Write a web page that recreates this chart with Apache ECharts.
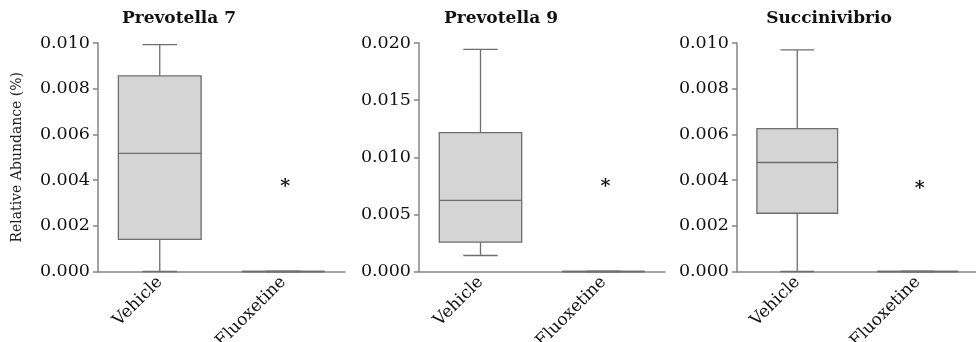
<!DOCTYPE html>
<html><head><meta charset="utf-8">
<script src="https://cdn.jsdelivr.net/npm/echarts@6/dist/echarts.min.js"></script>
<style>html,body{margin:0;padding:0;background:#fff}#c{width:976px;height:342px}</style>
</head><body><div id="c"></div>
<script>
const categories = ['Vehicle', 'Fluoxetine'];
const titles = ['Prevotella 7', 'Prevotella 9', 'Succinivibrio'];
// [min, Q1, median, Q3, max]
const prev7Vehicle = [0, 0.00141, 0.00517, 0.00856, 0.00993];
const prev7Fluoxetine = [0, 0, 0, 0, 0];
const prev9Vehicle = [0.0014, 0.00257, 0.00623, 0.01216, 0.01945];
const prev9Fluoxetine = [0, 0, 0, 0, 0];
const succVehicle = [0, 0.00255, 0.00477, 0.00625, 0.00970];
const succFluoxetine = [0, 0, 0, 0, 0];
const starValues = [0.00386, 0.00772, 0.00377];
const yMax = [0.010, 0.020, 0.010];
const yStep = [0.002, 0.005, 0.002];

const panels = [
  [prev7Vehicle, prev7Fluoxetine],
  [prev9Vehicle, prev9Fluoxetine],
  [succVehicle, succFluoxetine]
];
const gridLefts = [98, 419, 737];
const gridWidths = [247, 246, 241];
const titleCenters = [174, 496, 824];
const FONT = 'DejaVu Serif';
const axisColor = '#858585';

const chart = echarts.init(document.getElementById('c'), null, {renderer: 'canvas'});
const grids = [], xAxes = [], yAxes = [], series = [], titleOpts = [];
panels.forEach((p, i) => {
  grids.push({left: gridLefts[i], width: gridWidths[i], top: 43, bottom: 70.5,
    containLabel: false, outerBoundsMode: 'none'});
  titleOpts.push({text: titles[i], left: titleCenters[i], top: 5, textAlign: 'center',
    textStyle: {fontFamily: FONT, fontWeight: 'bold', fontSize: 17, color: '#111'}});
  xAxes.push({type: 'category', gridIndex: i, data: categories,
    axisLine: {lineStyle: {color: axisColor, width: 1.5}}, axisTick: {show: false},
    axisLabel: {rotate: 45, fontFamily: FONT, fontSize: 17, color: '#111', margin: 8, interval: 0}});
  yAxes.push({type: 'value', gridIndex: i, min: 0, max: yMax[i], interval: yStep[i],
    name: i === 0 ? 'Relative Abundance (%)' : '', nameLocation: 'middle', nameGap: 74,
    nameTextStyle: {fontFamily: FONT, fontSize: 14, color: '#222'},
    splitLine: {show: false},
    axisLine: {show: true, lineStyle: {color: axisColor, width: 1.5}},
    axisTick: {show: true, length: 5, lineStyle: {color: axisColor, width: 1.5}},
    axisLabel: {fontFamily: FONT, fontSize: 17.5, color: '#111', margin: 8,
      formatter: v => v.toFixed(3)}});
  series.push({
    type: 'custom', xAxisIndex: i, yAxisIndex: i,
    data: p.map((d, k) => [k].concat(d)),
    encode: {x: 0, y: [1, 2, 3, 4, 5]},
    renderItem: function (params, api) {
      const x = api.value(0);
      const band = api.size([1, 0])[0];
      const bw = band * 0.67, cw = band * 0.28;
      const pmin = api.coord([x, api.value(1)]);
      const pq1 = api.coord([x, api.value(2)]);
      const pmed = api.coord([x, api.value(3)]);
      const pq3 = api.coord([x, api.value(4)]);
      const pmax = api.coord([x, api.value(5)]);
      const cx = pmin[0];
      const ls = {stroke: '#6e6e6e', lineWidth: 1.3};
      const ch = [];
      ch.push({type: 'line', shape: {x1: cx, y1: pq3[1], x2: cx, y2: pmax[1]}, style: ls});
      ch.push({type: 'line', shape: {x1: cx, y1: pq1[1], x2: cx, y2: pmin[1]}, style: ls});
      ch.push({type: 'line', shape: {x1: cx - cw/2, y1: pmax[1], x2: cx + cw/2, y2: pmax[1]}, style: ls});
      ch.push({type: 'line', shape: {x1: cx - cw/2, y1: pmin[1], x2: cx + cw/2, y2: pmin[1]}, style: ls});
      ch.push({type: 'rect', shape: {x: cx - bw/2, y: pq3[1], width: bw, height: pq1[1] - pq3[1]},
        style: {fill: '#d5d5d5', stroke: '#6e6e6e', lineWidth: 1.3}});
      ch.push({type: 'line', shape: {x1: cx - bw/2, y1: pmed[1], x2: cx + bw/2, y2: pmed[1]}, style: ls});
      return {type: 'group', children: ch};
    }
  });
  series.push({
    type: 'custom', xAxisIndex: i, yAxisIndex: i,
    data: [[1, starValues[i]]],
    renderItem: function (params, api) {
      const pt = api.coord([api.value(0), api.value(1)]);
      return {type: 'text', x: pt[0] + 2, y: pt[1] + 4,
        style: {text: '*', fontFamily: FONT, fontSize: 19, fontWeight: 'bold', fill: '#111', align: 'center', verticalAlign: 'middle'}};
    }
  });
});
chart.setOption({animation: false, title: titleOpts, grid: grids, xAxis: xAxes, yAxis: yAxes, series: series});
</script></body></html>
